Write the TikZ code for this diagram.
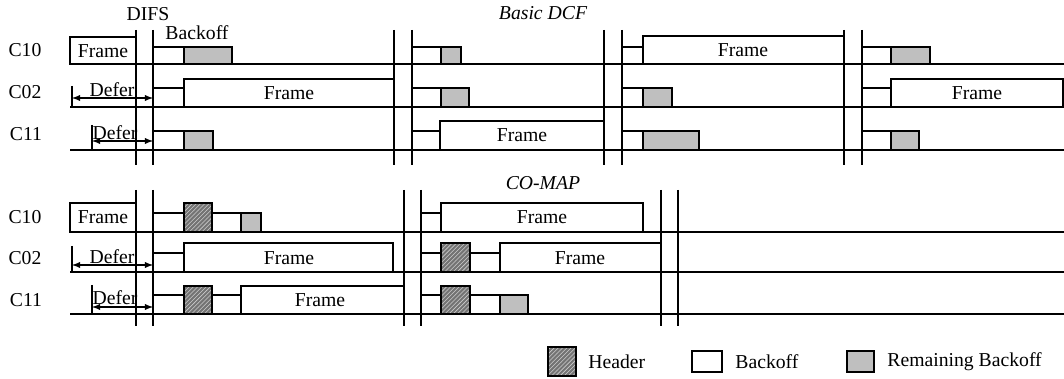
\documentclass[tikz,border=0pt]{standalone}
\usepackage{fontspec}
\setmainfont{Liberation Serif}
\usepackage{tikz}
\usetikzlibrary{patterns}
\usetikzlibrary{arrows}

\begin{document}
\begin{tikzpicture}[>=latex,x=0.025cm,y=-0.025cm,line width=1pt,
	font=\fontsize{14}{16}\selectfont,
	rem/.style={fill=black!25},
	hdr/.style={preaction={fill=black!55},pattern=north east lines,pattern color=black!20}]
		\useasboundingbox (0,0) rectangle (1064,379);
		%\draw [help lines] (0,0) grid (1064,379);
		% Titoli
		\node (tdcf) at (543,13) {\itshape Basic DCF};
		\node (tmap) at (543,183) {\itshape CO-MAP};
		\node (difs) at (148,14) {DIFS};
		\node (bkof) at (197,33) {Backoff};
		
		% Stazioni
		\node (s10a) at (25,50) {C10};
		\node (s02a) at (25,92) {C02};
		\node (s11a) at (26,134) {C11};
		\node (s10b) at (25,217) {C10};
		\node (s02b) at (25,258) {C02};
		\node (s11b) at (26,300) {C11};
		
		% Linee DCF
		\foreach \y in {64,107,150} \draw (70,\y) -- (1064,\y);
		\foreach \x in {136,153,394,412,604,622,844,862} \draw (\x,30) -- (\x,165);
		
		% C10 DCF
		\draw (70,37) rectangle (136,64);
		\node (f10a) at (103,51) {Frame};
		\draw (153,47) rectangle (184,64);
		\draw [rem] (184,47) rectangle (232,64);
		\draw (412,47) rectangle (441,64);
		\draw [rem] (441,47) rectangle (461,64);
		\draw (622,47) rectangle (643,64);
		\draw (643,36) rectangle (844,64);
		\node (f10b) at (743,50) {Frame};
		\draw (862,47) rectangle (891,64);
		\draw [rem] (891,47) rectangle (930,64);
		
		% C02 DCF
		\draw (72,86) -- (72,107);
		\draw [<->] (72,98) -- (153,98);
		\node (d02a) at (112,90) {Defer};
		\draw (153,88) rectangle (184,107);
		\draw (184,79) rectangle (394,107);
		\node (f02a) at (289,93) {Frame};
		\draw (412,88) rectangle (441,107);
		\draw [rem] (441,88) rectangle (469,107);
		\draw (622,88) rectangle (643,107);
		\draw [rem] (643,88) rectangle (672,107);
		\draw (862,88) rectangle (891,107);
		\draw (891,79) rectangle (1063,107);
		\node (f02b) at (977,93) {Frame};
		
		% C11 DCF
		\draw (92,125) -- (92,150);
		\draw [<->] (92,141) -- (153,141);
		\node (d11a) at (115,133) {Defer};
		\draw (153,131) rectangle (184,150);
		\draw [rem] (184,131) rectangle (213,150);
		\draw (412,131) rectangle (440,150);
		\draw (440,121) rectangle (604,150);
		\node (f11a) at (522,135) {Frame};
		\draw (622,131) rectangle (643,150);
		\draw [rem] (643,131) rectangle (699,150);
		\draw (862,131) rectangle (891,150);
		\draw [rem] (891,131) rectangle (919,150);
		
		% Linee CO-MAP
		\foreach \y in {232,272,314} \draw (70,\y) -- (1064,\y);
		\foreach \x in {136,153,404,421,661,678} \draw (\x,190) -- (\x,326);
		
		% C10 CO-MAP
		\draw (70,203) rectangle (136,232);
		\node (f10c) at (103,217) {Frame};
		\draw (153,213) rectangle (184,232);
		\draw [hdr] (184,203) rectangle (212,232);
		\draw (212,213) rectangle (241,232);
		\draw [rem] (241,213) rectangle (261,232);
		\draw (421,213) rectangle (441,232);
		\draw (441,203) rectangle (643,232);
		\node (f10d) at (542,217) {Frame};
		
		% C02 CO-MAP
		\draw (72,246) -- (72,272);
		\draw [<->] (72,265) -- (153,265);
		\node (d02b) at (112,257) {Defer};
		\draw (153,253) rectangle (184,272);
		\draw (184,243) rectangle (393,272);
		\node (f02c) at (289,258) {Frame};
		\draw (421,253) rectangle (441,272);
		\draw [hdr] (441,243) rectangle (470,272);
		\draw (470,253) rectangle (500,272);
		\draw (500,243) rectangle (661,272);
		\node (f02d) at (580,258) {Frame};
		
		% C11 CO-MAP
		\draw (92,285) -- (92,314);
		\draw [<->] (92,307) -- (153,307);
		\node (d11b) at (115,298) {Defer};
		\draw (153,295) rectangle (184,314);
		\draw [hdr] (184,286) rectangle (212,314);
		\draw (212,295) rectangle (241,314);
		\draw (241,286) rectangle (404,314);
		\node (f11b) at (320,300) {Frame};
		\draw (421,295) rectangle (441,314);
		\draw [hdr] (441,286) rectangle (470,314);
		\draw (470,295) rectangle (500,314);
		\draw [rem] (500,295) rectangle (528,314);
		
		% Legenda
		\draw [hdr] (548,347) rectangle (576,376);
		\node [anchor=west] (lhdr) at (583,362) {Header};
		\draw (692,351) rectangle (722,372);
		\node [anchor=west] (lbko) at (730,362) {Backoff};
		\draw [rem] (847,351) rectangle (874,372);
		\node [anchor=west] (lrem) at (882,362) {Remaining Backoff};
	\end{tikzpicture}
\end{document}
